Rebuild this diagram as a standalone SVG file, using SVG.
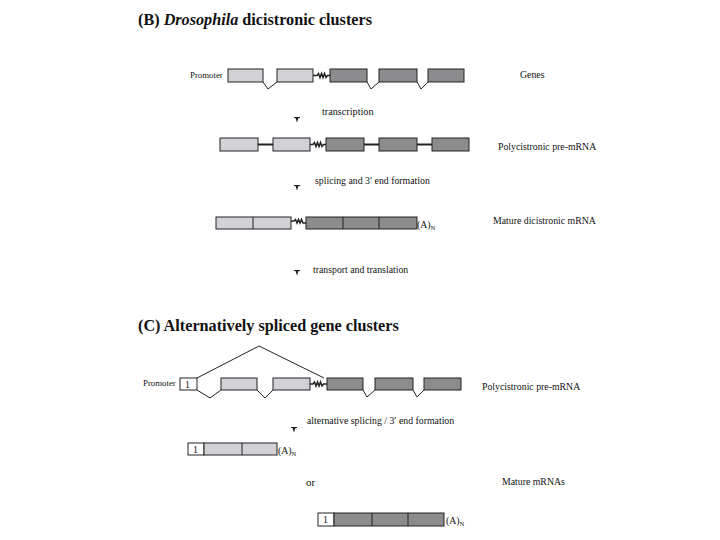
<svg xmlns="http://www.w3.org/2000/svg" width="720" height="540" viewBox="0 0 720 540">
<defs>
<style>
.t{font-family:"Liberation Serif","Times New Roman",serif;fill:#111}
.title{font-size:16.2px;font-weight:bold}
.lab{font-size:9.8px}
.st{font-size:10.2px}
.sm{font-size:8.8px}
.lt{fill:#d2d2d6;stroke:#222;stroke-width:1}
.dk{fill:#8c8c8e;stroke:#222;stroke-width:1}
.wh{fill:#fff;stroke:#222;stroke-width:1}
.ln{fill:none;stroke:#222;stroke-width:1}
.thk{fill:none;stroke:#222;stroke-width:1.8}
.wig{fill:none;stroke:#222;stroke-width:1.5}
.arr{fill:#222}
</style>
<g id="arrowhead"><path d="M-3,-3 L3,-3 L3,-2 L1.5,-2 L0,2.5 L-1.5,-2 L-3,-2 Z"/></g>
</defs>
<rect width="720" height="540" fill="#fff"/>

<text class="t title" x="138" y="25">(B) <tspan font-style="italic">Drosophila</tspan> dicistronic clusters</text>

<g id="genes">
<text class="t sm" x="190" y="78">Promoter</text>
<rect class="lt" x="228" y="69" width="35" height="13"/>
<rect class="lt" x="277" y="69" width="36" height="13"/>
<rect class="dk" x="330" y="69" width="37" height="13"/>
<rect class="dk" x="379" y="69" width="38" height="13"/>
<rect class="dk" x="428" y="69" width="36" height="13"/>
<path class="ln" d="M263,82 L268,89 L277,82 M367,82 L371,89 L379,82 M417,82 L421,89 L428,82"/>
<path class="wig" d="M313,75.5 L317,75.5 L318.5,73.5 L320,77.5 L321.5,73.5 L323,77.5 L324.5,73.5 L326,77.5 L327.5,75.5 L330,75.5"/>
<text class="t lab" x="520" y="78">Genes</text>
</g>

<g id="premrna-b">
<rect class="lt" x="220" y="138" width="38" height="13"/>
<rect class="lt" x="273" y="138" width="37" height="13"/>
<rect class="dk" x="326" y="138" width="38" height="13"/>
<rect class="dk" x="379" y="138" width="38" height="13"/>
<rect class="dk" x="432" y="138" width="37" height="13"/>
<path class="thk" d="M258,144.5 L273,144.5 M364,144.5 L379,144.5 M417,144.5 L432,144.5"/>
<path class="wig" d="M310,144.5 L313,144.5 L314.5,142.5 L316,146.5 L317.5,142.5 L319,146.5 L320.5,142.5 L322,146.5 L323.5,144.5 L326,144.5"/>
<text class="t lab" x="498" y="150">Polycistronic pre-mRNA</text>
</g>

<g id="mature-b">
<rect class="lt" x="216" y="217" width="75" height="12"/>
<path class="ln" d="M253,217 L253,229"/>
<rect class="dk" x="306" y="217" width="111" height="12"/>
<path class="ln" d="M343,217 L343,229 M379,217 L379,229"/>
<path class="wig" d="M291,221 L294,221 L295.5,219.5 L297,223 L298.5,219.5 L300,223 L301.5,219.5 L303,223 L306,223"/>
<text class="t lab" x="417" y="228">(A)<tspan font-size="6.5px" dy="2">N</tspan></text>
<text class="t lab" x="493" y="224">Mature dicistronic mRNA</text>
</g>

<g id="steps-b">
<use href="#arrowhead" x="297" y="120" class="arr"/>
<text class="t st" x="322" y="115">transcription</text>
<use href="#arrowhead" x="297" y="188" class="arr"/>
<text class="t lab" x="315" y="184">splicing and 3′ end formation</text>
<use href="#arrowhead" x="297" y="273" class="arr"/>
<text class="t lab" x="313" y="273">transport and translation</text>
</g>

<text class="t title" x="138" y="331">(C) Alternatively spliced gene clusters</text>

<g id="premrna-c">
<text class="t sm" x="143" y="386">Promoter</text>
<rect class="wh" x="180" y="378" width="17" height="12"/>
<text class="t lab" x="185" y="388">1</text>
<rect class="lt" x="221" y="378" width="36" height="12"/>
<rect class="lt" x="273" y="378" width="37" height="12"/>
<rect class="dk" x="327" y="378" width="36" height="12"/>
<rect class="dk" x="375" y="378" width="38" height="12"/>
<rect class="dk" x="424" y="378" width="37" height="12"/>
<path class="ln" d="M197,390 L210,398 L221,390 M257,390 L265,398 L273,390 M363,390 L367,397 L375,390 M413,390 L417,397 L424,390"/>
<path class="ln" d="M197,378 L259,346 L324,378"/>
<path class="wig" d="M310,384 L313,384 L314.5,382 L316,386 L317.5,382 L319,386 L320.5,382 L322,386 L323.5,384 L327,384"/>
<text class="t lab" x="482" y="390">Polycistronic pre-mRNA</text>
</g>

<g id="steps-c">
<use href="#arrowhead" x="294" y="430" class="arr"/>
<text class="t lab" x="307" y="424">alternative splicing / 3′ end formation</text>
</g>

<g id="mature-c1">
<rect class="wh" x="188" y="443" width="16" height="12"/>
<text class="t lab" x="193" y="453">1</text>
<rect class="lt" x="204" y="443" width="73" height="12"/>
<path class="ln" d="M242,443 L242,455"/>
<text class="t lab" x="278" y="454">(A)<tspan font-size="6.5px" dy="2">N</tspan></text>
</g>

<text class="t" x="306" y="486" font-size="11px">or</text>
<text class="t lab" x="502" y="485">Mature mRNAs</text>

<g id="mature-c2">
<rect class="wh" x="318" y="513" width="16" height="13"/>
<text class="t lab" x="323" y="523">1</text>
<rect class="dk" x="334" y="513" width="110" height="13"/>
<path class="ln" d="M372,513 L372,526 M408,513 L408,526"/>
<text class="t lab" x="446" y="524">(A)<tspan font-size="6.5px" dy="2">N</tspan></text>
</g>

<g id="connectors"></g>
</svg>
